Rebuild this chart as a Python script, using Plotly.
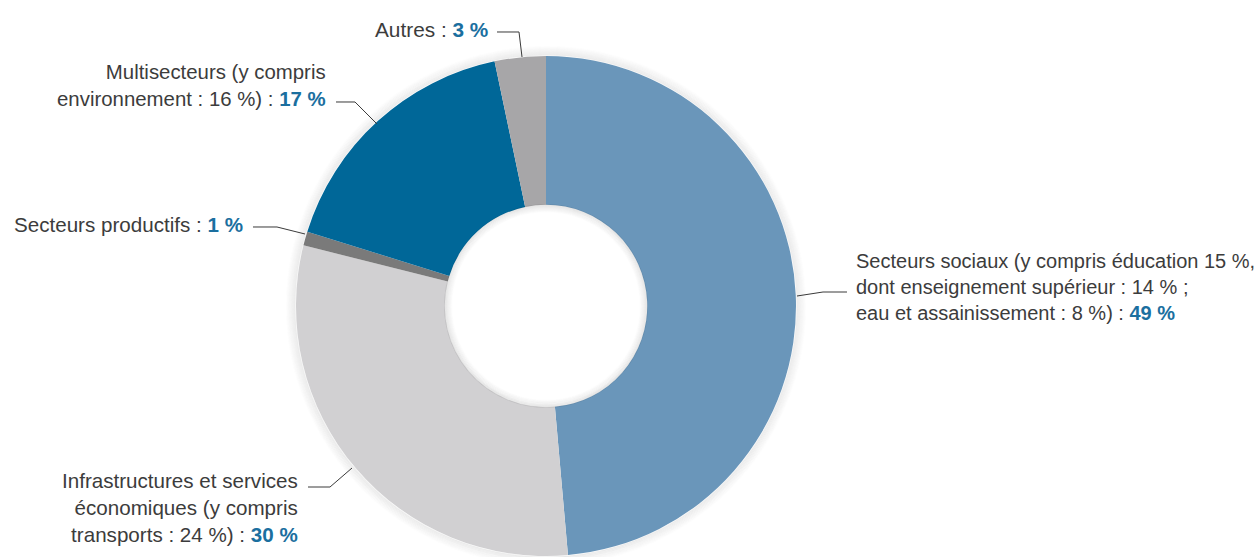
import plotly.graph_objects as go

W, H = 1255, 557

# Data (slice sizes; labels show rounded values)
categories = ["Secteurs sociaux", "Infrastructures et services économiques",
              "Secteurs productifs", "Multisecteurs", "Autres"]
values = [48.6, 30.3, 0.9, 16.9, 3.3]
colors = ["#6a96ba", "#d1d0d2", "#7a7a7a", "#006798", "#a7a6a8"]

label_texts = [
    "Secteurs sociaux (y compris éducation 15 %,<br>dont enseignement supérieur : 14 % ;<br>eau et assainissement : 8 %) : ",
    "Infrastructures et services<br>économiques (y compris<br>transports : 24 %) : ",
    "Secteurs productifs : ",
    "Multisecteurs (y compris<br>environnement : 16 %) : ",
    "Autres : ",
]
pct_texts = ["49 %", "30 %", "1 %", "17 %", "3 %"]

# layout helpers (pixel -> paper)
def px(x):
    return x / W

def py(y):
    return 1 - y / H

CX, CY, R = 546, 306, 250
HOLE = 0.405

fig = go.Figure()
fig.add_trace(go.Pie(
    labels=categories, values=values, sort=False, direction="clockwise",
    rotation=0, hole=HOLE, textinfo="none", hoverinfo="label+percent",
    marker=dict(colors=colors, line=dict(width=0)),
    domain=dict(x=[px(CX - R), px(CX + R)], y=[py(CY + R), py(CY - R)]),
    showlegend=False,
))

shapes = []
# soft outer shadow
for k in range(1, 11):
    r = R + k
    a = 0.06 * (1 - k / 11)
    shapes.append(dict(type="circle", xref="paper", yref="paper",
                       x0=px(CX - r), x1=px(CX + r), y0=py(CY + r), y1=py(CY - r),
                       line=dict(color=f"rgba(0,0,0,{a:.3f})", width=1.5), layer="below"))
# inner hole shadow
rh = R * HOLE
for k in range(0, 8):
    r = rh - k
    a = 0.07 * (1 - k / 8)
    shapes.append(dict(type="circle", xref="paper", yref="paper",
                       x0=px(CX - r), x1=px(CX + r), y0=py(CY + r), y1=py(CY - r),
                       line=dict(color=f"rgba(0,0,0,{a:.3f})", width=1.5), layer="above"))

# leader lines (pixel coords of label connectors)
leaders = [
    [(797, 296), (823, 292), (847, 292)],
    [(308, 487), (330, 487), (352, 468)],
    [(253, 227), (277, 227), (305, 234)],
    [(336, 102), (355, 102), (377, 124)],
    [(497, 32), (519, 32), (522, 57)],
]
for pts in leaders:
    path = "M " + " L ".join(f"{px(x):.5f},{py(y):.5f}" for x, y in pts)
    shapes.append(dict(type="path", xref="paper", yref="paper", path=path,
                       line=dict(color="#3a3a3a", width=1)))

# label anchor positions: (x, y, xanchor, align, font size)
anchors = [
    (854, 287, "left", "left", 20),
    (300, 507, "right", "right", 20.6),
    (245, 224, "right", "right", 20.6),
    (328, 85, "right", "right", 20.4),
    (490, 30, "right", "right", 20.8),
]
blue = "#1b6f9f"
annotations = []
for txt, pct, (x, y, xa, al, fs) in zip(label_texts, pct_texts, anchors):
    annotations.append(dict(
        x=px(x), y=py(y), xref="paper", yref="paper", xanchor=xa, yanchor="middle",
        align=al, showarrow=False,
        text=f"{txt}<b><span style='color:{blue}'>{pct}</span></b>",
        font=dict(family="Liberation Sans, Arial, sans-serif", size=fs, color="#3c3c3c"),
    ))

fig.update_layout(
    width=W, height=H, margin=dict(l=0, r=0, t=0, b=0),
    paper_bgcolor="white", plot_bgcolor="white",
    shapes=shapes, annotations=annotations,
)
fig.write_html("out.html")
